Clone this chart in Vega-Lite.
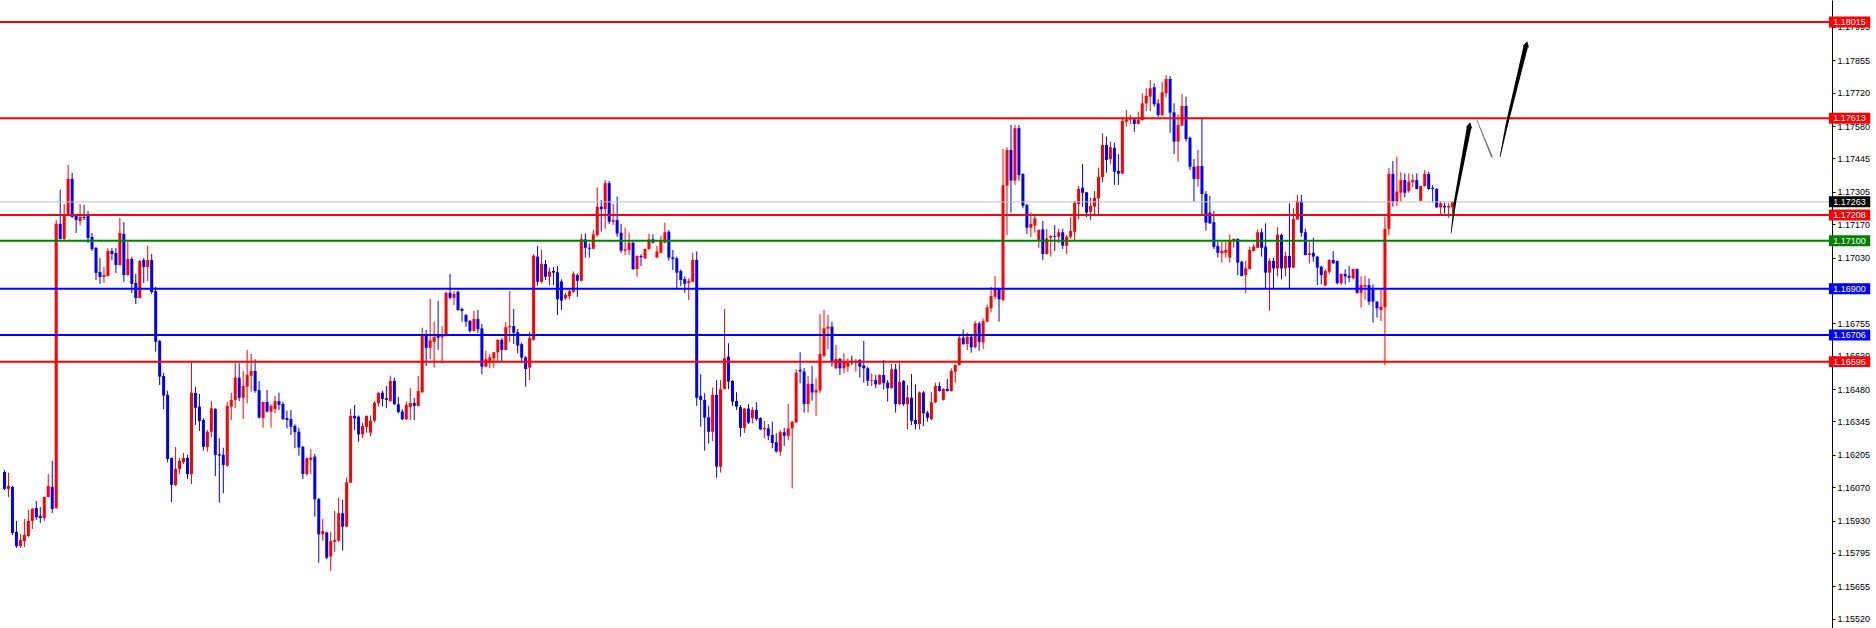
{
"$schema": "https://vega.github.io/schema/vega-lite/v6.json",
"width": 1832, "height": 628,
"autosize": {"type": "none"},
"padding": {"left": 0, "top": 0, "right": 44, "bottom": 0},
"background": "#ffffff",
"config": {"view": {"stroke": null}, "font": "Liberation Sans",
"axisY": {"orient": "right", "title": null, "grid": false, "format": ".5f", "domainColor": "#000000", "domainWidth": 1, "tickColor": "#000000", "tickSize": 3, "tickWidth": 1, "labelPadding": 2, "labelFont": "Liberation Sans", "labelFontSize": 9, "labelColor": "#000000", "labelOverlap": false, "labelFlush": false}},
"datasets": {
"candles": [
{"i":0,"o":1.16134,"h":1.16142,"l":1.16058,"c":1.16063},
{"i":1,"o":1.16063,"h":1.16130,"l":1.16029,"c":1.16075},
{"i":2,"o":1.16071,"h":1.16075,"l":1.15870,"c":1.15879},
{"i":3,"o":1.15883,"h":1.15929,"l":1.15816,"c":1.15824},
{"i":4,"o":1.15824,"h":1.15874,"l":1.15816,"c":1.15849},
{"i":5,"o":1.15845,"h":1.15937,"l":1.15820,"c":1.15870},
{"i":6,"o":1.15866,"h":1.15975,"l":1.15862,"c":1.15929},
{"i":7,"o":1.15929,"h":1.15983,"l":1.15895,"c":1.15979},
{"i":8,"o":1.15983,"h":1.16012,"l":1.15933,"c":1.15945},
{"i":9,"o":1.15950,"h":1.15987,"l":1.15920,"c":1.15941},
{"i":10,"o":1.15941,"h":1.16031,"l":1.15929,"c":1.16029},
{"i":11,"o":1.16029,"h":1.16125,"l":1.16027,"c":1.16075},
{"i":12,"o":1.16071,"h":1.16180,"l":1.15962,"c":1.15979},
{"i":13,"o":1.15983,"h":1.17187,"l":1.15979,"c":1.17171},
{"i":14,"o":1.17171,"h":1.17313,"l":1.17106,"c":1.17108},
{"i":15,"o":1.17108,"h":1.17254,"l":1.17104,"c":1.17208},
{"i":16,"o":1.17208,"h":1.17417,"l":1.17206,"c":1.17359},
{"i":17,"o":1.17359,"h":1.17384,"l":1.17196,"c":1.17200},
{"i":18,"o":1.17204,"h":1.17208,"l":1.17133,"c":1.17187},
{"i":19,"o":1.17183,"h":1.17254,"l":1.17166,"c":1.17200},
{"i":20,"o":1.17200,"h":1.17250,"l":1.17187,"c":1.17196},
{"i":21,"o":1.17204,"h":1.17225,"l":1.17091,"c":1.17112},
{"i":22,"o":1.17116,"h":1.17133,"l":1.17058,"c":1.17066},
{"i":23,"o":1.17070,"h":1.17075,"l":1.16936,"c":1.16966},
{"i":24,"o":1.16970,"h":1.17028,"l":1.16920,"c":1.16949},
{"i":25,"o":1.16949,"h":1.16991,"l":1.16924,"c":1.16957},
{"i":26,"o":1.16953,"h":1.17070,"l":1.16951,"c":1.17058},
{"i":27,"o":1.17058,"h":1.17070,"l":1.17020,"c":1.17045},
{"i":28,"o":1.17049,"h":1.17070,"l":1.16966,"c":1.16999},
{"i":29,"o":1.16999,"h":1.17196,"l":1.16997,"c":1.17133},
{"i":30,"o":1.17129,"h":1.17179,"l":1.16928,"c":1.16957},
{"i":31,"o":1.16957,"h":1.17095,"l":1.16955,"c":1.17024},
{"i":32,"o":1.17024,"h":1.17033,"l":1.16882,"c":1.16920},
{"i":33,"o":1.16924,"h":1.16962,"l":1.16836,"c":1.16861},
{"i":34,"o":1.16861,"h":1.17020,"l":1.16859,"c":1.17016},
{"i":35,"o":1.17020,"h":1.17028,"l":1.16924,"c":1.16991},
{"i":36,"o":1.16991,"h":1.17079,"l":1.16932,"c":1.17020},
{"i":37,"o":1.17020,"h":1.17045,"l":1.16878,"c":1.16886},
{"i":38,"o":1.16890,"h":1.16908,"l":1.16637,"c":1.16678},
{"i":39,"o":1.16681,"h":1.16686,"l":1.16497,"c":1.16532},
{"i":40,"o":1.16535,"h":1.16549,"l":1.16396,"c":1.16453},
{"i":41,"o":1.16456,"h":1.16473,"l":1.16174,"c":1.16188},
{"i":42,"o":1.16192,"h":1.16194,"l":1.16008,"c":1.16079},
{"i":43,"o":1.16079,"h":1.16238,"l":1.16075,"c":1.16146},
{"i":44,"o":1.16146,"h":1.16192,"l":1.16125,"c":1.16180},
{"i":45,"o":1.16175,"h":1.16213,"l":1.16167,"c":1.16192},
{"i":46,"o":1.16192,"h":1.16205,"l":1.16104,"c":1.16125},
{"i":47,"o":1.16125,"h":1.16591,"l":1.16083,"c":1.16465},
{"i":48,"o":1.16464,"h":1.16490,"l":1.16330,"c":1.16402},
{"i":49,"o":1.16407,"h":1.16460,"l":1.16305,"c":1.16347},
{"i":50,"o":1.16351,"h":1.16358,"l":1.16223,"c":1.16239},
{"i":51,"o":1.16238,"h":1.16309,"l":1.16219,"c":1.16302},
{"i":52,"o":1.16302,"h":1.16430,"l":1.16279,"c":1.16400},
{"i":53,"o":1.16397,"h":1.16400,"l":1.16117,"c":1.16205},
{"i":54,"o":1.16208,"h":1.16275,"l":1.16005,"c":1.16202},
{"i":55,"o":1.16205,"h":1.16235,"l":1.16045,"c":1.16163},
{"i":56,"o":1.16160,"h":1.16427,"l":1.16156,"c":1.16410},
{"i":57,"o":1.16407,"h":1.16465,"l":1.16351,"c":1.16435},
{"i":58,"o":1.16435,"h":1.16588,"l":1.16400,"c":1.16528},
{"i":59,"o":1.16528,"h":1.16588,"l":1.16430,"c":1.16444},
{"i":60,"o":1.16444,"h":1.16556,"l":1.16355,"c":1.16493},
{"i":61,"o":1.16490,"h":1.16644,"l":1.16421,"c":1.16539},
{"i":62,"o":1.16536,"h":1.16627,"l":1.16469,"c":1.16556},
{"i":63,"o":1.16556,"h":1.16605,"l":1.16465,"c":1.16472},
{"i":64,"o":1.16476,"h":1.16514,"l":1.16357,"c":1.16361},
{"i":65,"o":1.16359,"h":1.16428,"l":1.16319,"c":1.16426},
{"i":66,"o":1.16426,"h":1.16476,"l":1.16382,"c":1.16386},
{"i":67,"o":1.16386,"h":1.16417,"l":1.16319,"c":1.16410},
{"i":68,"o":1.16397,"h":1.16451,"l":1.16380,"c":1.16430},
{"i":69,"o":1.16430,"h":1.16465,"l":1.16393,"c":1.16414},
{"i":70,"o":1.16418,"h":1.16427,"l":1.16351,"c":1.16355},
{"i":71,"o":1.16359,"h":1.16390,"l":1.16316,"c":1.16351},
{"i":72,"o":1.16355,"h":1.16393,"l":1.16288,"c":1.16323},
{"i":73,"o":1.16326,"h":1.16333,"l":1.16233,"c":1.16300},
{"i":74,"o":1.16302,"h":1.16319,"l":1.16202,"c":1.16236},
{"i":75,"o":1.16239,"h":1.16242,"l":1.16104,"c":1.16125},
{"i":76,"o":1.16125,"h":1.16194,"l":1.16118,"c":1.16191},
{"i":77,"o":1.16184,"h":1.16229,"l":1.16125,"c":1.16194},
{"i":78,"o":1.16198,"h":1.16209,"l":1.15947,"c":1.16020},
{"i":79,"o":1.16021,"h":1.16024,"l":1.15754,"c":1.15873},
{"i":80,"o":1.15873,"h":1.15937,"l":1.15846,"c":1.15887},
{"i":81,"o":1.15881,"h":1.15884,"l":1.15769,"c":1.15775},
{"i":82,"o":1.15780,"h":1.15884,"l":1.15721,"c":1.15845},
{"i":83,"o":1.15842,"h":1.15971,"l":1.15800,"c":1.15849},
{"i":84,"o":1.15846,"h":1.16026,"l":1.15842,"c":1.15961},
{"i":85,"o":1.15961,"h":1.16017,"l":1.15805,"c":1.15905},
{"i":86,"o":1.15905,"h":1.16110,"l":1.15903,"c":1.16091},
{"i":87,"o":1.16089,"h":1.16397,"l":1.16087,"c":1.16368},
{"i":88,"o":1.16368,"h":1.16414,"l":1.16309,"c":1.16358},
{"i":89,"o":1.16365,"h":1.16370,"l":1.16260,"c":1.16291},
{"i":90,"o":1.16291,"h":1.16340,"l":1.16275,"c":1.16326},
{"i":91,"o":1.16322,"h":1.16370,"l":1.16298,"c":1.16368},
{"i":92,"o":1.16298,"h":1.16370,"l":1.16284,"c":1.16348},
{"i":93,"o":1.16348,"h":1.16430,"l":1.16340,"c":1.16423},
{"i":94,"o":1.16421,"h":1.16466,"l":1.16407,"c":1.16465},
{"i":95,"o":1.16465,"h":1.16473,"l":1.16407,"c":1.16439},
{"i":96,"o":1.16442,"h":1.16493,"l":1.16400,"c":1.16435},
{"i":97,"o":1.16430,"h":1.16536,"l":1.16428,"c":1.16514},
{"i":98,"o":1.16514,"h":1.16528,"l":1.16414,"c":1.16417},
{"i":99,"o":1.16417,"h":1.16448,"l":1.16379,"c":1.16384},
{"i":100,"o":1.16386,"h":1.16396,"l":1.16351,"c":1.16354},
{"i":101,"o":1.16354,"h":1.16428,"l":1.16351,"c":1.16414},
{"i":102,"o":1.16405,"h":1.16484,"l":1.16351,"c":1.16422},
{"i":103,"o":1.16422,"h":1.16443,"l":1.16351,"c":1.16410},
{"i":104,"o":1.16410,"h":1.16535,"l":1.16408,"c":1.16472},
{"i":105,"o":1.16467,"h":1.16737,"l":1.16463,"c":1.16702},
{"i":106,"o":1.16702,"h":1.16727,"l":1.16577,"c":1.16653},
{"i":107,"o":1.16653,"h":1.16857,"l":1.16606,"c":1.16683},
{"i":108,"o":1.16678,"h":1.16762,"l":1.16570,"c":1.16699},
{"i":109,"o":1.16709,"h":1.16849,"l":1.16644,"c":1.16695},
{"i":110,"o":1.16697,"h":1.16744,"l":1.16591,"c":1.16702},
{"i":111,"o":1.16702,"h":1.16887,"l":1.16700,"c":1.16883},
{"i":112,"o":1.16883,"h":1.16962,"l":1.16855,"c":1.16862},
{"i":113,"o":1.16862,"h":1.16890,"l":1.16832,"c":1.16878},
{"i":114,"o":1.16887,"h":1.16892,"l":1.16808,"c":1.16811},
{"i":115,"o":1.16815,"h":1.16821,"l":1.16762,"c":1.16807},
{"i":116,"o":1.16790,"h":1.16794,"l":1.16741,"c":1.16762},
{"i":117,"o":1.16765,"h":1.16769,"l":1.16716,"c":1.16723},
{"i":118,"o":1.16724,"h":1.16808,"l":1.16721,"c":1.16773},
{"i":119,"o":1.16773,"h":1.16811,"l":1.16714,"c":1.16730},
{"i":120,"o":1.16734,"h":1.16752,"l":1.16543,"c":1.16574},
{"i":121,"o":1.16574,"h":1.16641,"l":1.16572,"c":1.16605},
{"i":122,"o":1.16591,"h":1.16627,"l":1.16567,"c":1.16613},
{"i":123,"o":1.16609,"h":1.16636,"l":1.16570,"c":1.16634},
{"i":124,"o":1.16634,"h":1.16688,"l":1.16591,"c":1.16686},
{"i":125,"o":1.16686,"h":1.16693,"l":1.16595,"c":1.16644},
{"i":126,"o":1.16644,"h":1.16760,"l":1.16642,"c":1.16739},
{"i":127,"o":1.16739,"h":1.16890,"l":1.16678,"c":1.16744},
{"i":128,"o":1.16744,"h":1.16815,"l":1.16669,"c":1.16716},
{"i":129,"o":1.16718,"h":1.16731,"l":1.16630,"c":1.16662},
{"i":130,"o":1.16668,"h":1.16674,"l":1.16591,"c":1.16612},
{"i":131,"o":1.16613,"h":1.16619,"l":1.16490,"c":1.16564},
{"i":132,"o":1.16570,"h":1.16720,"l":1.16518,"c":1.16693},
{"i":133,"o":1.16686,"h":1.17044,"l":1.16684,"c":1.17038},
{"i":134,"o":1.17034,"h":1.17079,"l":1.16913,"c":1.16929},
{"i":135,"o":1.16929,"h":1.17062,"l":1.16923,"c":1.17003},
{"i":136,"o":1.17003,"h":1.17020,"l":1.16936,"c":1.16950},
{"i":137,"o":1.16950,"h":1.16988,"l":1.16915,"c":1.16971},
{"i":138,"o":1.16974,"h":1.16990,"l":1.16915,"c":1.16967},
{"i":139,"o":1.16969,"h":1.16995,"l":1.16790,"c":1.16856},
{"i":140,"o":1.16930,"h":1.16939,"l":1.16811,"c":1.16850},
{"i":141,"o":1.16860,"h":1.16883,"l":1.16853,"c":1.16874},
{"i":142,"o":1.16869,"h":1.16898,"l":1.16855,"c":1.16890},
{"i":143,"o":1.16887,"h":1.16972,"l":1.16883,"c":1.16962},
{"i":144,"o":1.16957,"h":1.16964,"l":1.16866,"c":1.16933},
{"i":145,"o":1.16933,"h":1.17129,"l":1.16931,"c":1.17107},
{"i":146,"o":1.17106,"h":1.17131,"l":1.17030,"c":1.17071},
{"i":147,"o":1.17071,"h":1.17089,"l":1.17030,"c":1.17067},
{"i":148,"o":1.17067,"h":1.17145,"l":1.17065,"c":1.17127},
{"i":149,"o":1.17124,"h":1.17324,"l":1.17117,"c":1.17243},
{"i":150,"o":1.17243,"h":1.17271,"l":1.17138,"c":1.17232},
{"i":151,"o":1.17233,"h":1.17354,"l":1.17148,"c":1.17341},
{"i":152,"o":1.17341,"h":1.17350,"l":1.17171,"c":1.17180},
{"i":153,"o":1.17180,"h":1.17254,"l":1.17166,"c":1.17187},
{"i":154,"o":1.17187,"h":1.17285,"l":1.17117,"c":1.17131},
{"i":155,"o":1.17134,"h":1.17171,"l":1.17050,"c":1.17059},
{"i":156,"o":1.17059,"h":1.17155,"l":1.17041,"c":1.17065},
{"i":157,"o":1.17062,"h":1.17134,"l":1.17041,"c":1.17092},
{"i":158,"o":1.17092,"h":1.17097,"l":1.16978,"c":1.16982},
{"i":159,"o":1.16982,"h":1.17039,"l":1.16951,"c":1.17037},
{"i":160,"o":1.17037,"h":1.17044,"l":1.16995,"c":1.17031},
{"i":161,"o":1.17027,"h":1.17068,"l":1.17024,"c":1.17066},
{"i":162,"o":1.17066,"h":1.17129,"l":1.17062,"c":1.17106},
{"i":163,"o":1.17106,"h":1.17127,"l":1.17090,"c":1.17092},
{"i":164,"o":1.17031,"h":1.17079,"l":1.17029,"c":1.17055},
{"i":165,"o":1.17050,"h":1.17120,"l":1.17048,"c":1.17101},
{"i":166,"o":1.17092,"h":1.17176,"l":1.17090,"c":1.17136},
{"i":167,"o":1.17138,"h":1.17145,"l":1.17017,"c":1.17030},
{"i":168,"o":1.17031,"h":1.17062,"l":1.16978,"c":1.17024},
{"i":169,"o":1.17027,"h":1.17034,"l":1.16901,"c":1.16967},
{"i":170,"o":1.16974,"h":1.16981,"l":1.16911,"c":1.16936},
{"i":171,"o":1.16940,"h":1.16951,"l":1.16883,"c":1.16920},
{"i":172,"o":1.16924,"h":1.16943,"l":1.16853,"c":1.16932},
{"i":173,"o":1.16929,"h":1.17050,"l":1.16927,"c":1.17020},
{"i":174,"o":1.17020,"h":1.17055,"l":1.16410,"c":1.16444},
{"i":175,"o":1.16451,"h":1.16543,"l":1.16323,"c":1.16435},
{"i":176,"o":1.16435,"h":1.16463,"l":1.16223,"c":1.16361},
{"i":177,"o":1.16362,"h":1.16410,"l":1.16253,"c":1.16302},
{"i":178,"o":1.16302,"h":1.16486,"l":1.16263,"c":1.16456},
{"i":179,"o":1.16456,"h":1.16518,"l":1.16110,"c":1.16156},
{"i":180,"o":1.16156,"h":1.16518,"l":1.16131,"c":1.16480},
{"i":181,"o":1.16481,"h":1.16815,"l":1.16479,"c":1.16609},
{"i":182,"o":1.16616,"h":1.16672,"l":1.16480,"c":1.16512},
{"i":183,"o":1.16514,"h":1.16518,"l":1.16410,"c":1.16428},
{"i":184,"o":1.16430,"h":1.16467,"l":1.16393,"c":1.16407},
{"i":185,"o":1.16405,"h":1.16414,"l":1.16281,"c":1.16318},
{"i":186,"o":1.16318,"h":1.16401,"l":1.16297,"c":1.16399},
{"i":187,"o":1.16399,"h":1.16418,"l":1.16334,"c":1.16340},
{"i":188,"o":1.16359,"h":1.16405,"l":1.16337,"c":1.16393},
{"i":189,"o":1.16393,"h":1.16425,"l":1.16348,"c":1.16355},
{"i":190,"o":1.16359,"h":1.16362,"l":1.16309,"c":1.16312},
{"i":191,"o":1.16312,"h":1.16347,"l":1.16274,"c":1.16318},
{"i":192,"o":1.16316,"h":1.16334,"l":1.16267,"c":1.16285},
{"i":193,"o":1.16288,"h":1.16344,"l":1.16233,"c":1.16255},
{"i":194,"o":1.16258,"h":1.16295,"l":1.16215,"c":1.16219},
{"i":195,"o":1.16219,"h":1.16309,"l":1.16201,"c":1.16300},
{"i":196,"o":1.16300,"h":1.16318,"l":1.16243,"c":1.16285},
{"i":197,"o":1.16285,"h":1.16418,"l":1.16267,"c":1.16316},
{"i":198,"o":1.16316,"h":1.16347,"l":1.16065,"c":1.16344},
{"i":199,"o":1.16341,"h":1.16563,"l":1.16339,"c":1.16549},
{"i":200,"o":1.16561,"h":1.16634,"l":1.16505,"c":1.16554},
{"i":201,"o":1.16554,"h":1.16568,"l":1.16382,"c":1.16418},
{"i":202,"o":1.16418,"h":1.16535,"l":1.16382,"c":1.16502},
{"i":203,"o":1.16502,"h":1.16577,"l":1.16432,"c":1.16466},
{"i":204,"o":1.16466,"h":1.16525,"l":1.16368,"c":1.16476},
{"i":205,"o":1.16474,"h":1.16794,"l":1.16464,"c":1.16627},
{"i":206,"o":1.16619,"h":1.16811,"l":1.16613,"c":1.16734},
{"i":207,"o":1.16733,"h":1.16790,"l":1.16647,"c":1.16741},
{"i":208,"o":1.16741,"h":1.16762,"l":1.16574,"c":1.16595},
{"i":209,"o":1.16567,"h":1.16665,"l":1.16565,"c":1.16606},
{"i":210,"o":1.16606,"h":1.16611,"l":1.16539,"c":1.16567},
{"i":211,"o":1.16567,"h":1.16630,"l":1.16546,"c":1.16598},
{"i":212,"o":1.16574,"h":1.16609,"l":1.16553,"c":1.16591},
{"i":213,"o":1.16588,"h":1.16619,"l":1.16581,"c":1.16588},
{"i":214,"o":1.16591,"h":1.16606,"l":1.16553,"c":1.16595},
{"i":215,"o":1.16602,"h":1.16606,"l":1.16528,"c":1.16574},
{"i":216,"o":1.16579,"h":1.16681,"l":1.16507,"c":1.16567},
{"i":217,"o":1.16567,"h":1.16574,"l":1.16493,"c":1.16515},
{"i":218,"o":1.16515,"h":1.16546,"l":1.16493,"c":1.16518},
{"i":219,"o":1.16518,"h":1.16539,"l":1.16484,"c":1.16500},
{"i":220,"o":1.16500,"h":1.16542,"l":1.16497,"c":1.16539},
{"i":221,"o":1.16539,"h":1.16602,"l":1.16479,"c":1.16505},
{"i":222,"o":1.16507,"h":1.16518,"l":1.16428,"c":1.16484},
{"i":223,"o":1.16484,"h":1.16585,"l":1.16482,"c":1.16563},
{"i":224,"o":1.16563,"h":1.16585,"l":1.16382,"c":1.16417},
{"i":225,"o":1.16417,"h":1.16588,"l":1.16414,"c":1.16509},
{"i":226,"o":1.16514,"h":1.16518,"l":1.16410,"c":1.16417},
{"i":227,"o":1.16417,"h":1.16497,"l":1.16312,"c":1.16446},
{"i":228,"o":1.16444,"h":1.16543,"l":1.16330,"c":1.16347},
{"i":229,"o":1.16351,"h":1.16500,"l":1.16312,"c":1.16334},
{"i":230,"o":1.16334,"h":1.16470,"l":1.16312,"c":1.16466},
{"i":231,"o":1.16466,"h":1.16472,"l":1.16326,"c":1.16379},
{"i":232,"o":1.16382,"h":1.16389,"l":1.16344,"c":1.16361},
{"i":233,"o":1.16355,"h":1.16467,"l":1.16351,"c":1.16425},
{"i":234,"o":1.16425,"h":1.16507,"l":1.16421,"c":1.16493},
{"i":235,"o":1.16493,"h":1.16509,"l":1.16470,"c":1.16472},
{"i":236,"o":1.16435,"h":1.16484,"l":1.16432,"c":1.16481},
{"i":237,"o":1.16481,"h":1.16523,"l":1.16470,"c":1.16472},
{"i":238,"o":1.16472,"h":1.16567,"l":1.16470,"c":1.16556},
{"i":239,"o":1.16553,"h":1.16584,"l":1.16507,"c":1.16581},
{"i":240,"o":1.16581,"h":1.16702,"l":1.16578,"c":1.16695},
{"i":241,"o":1.16695,"h":1.16730,"l":1.16665,"c":1.16669},
{"i":242,"o":1.16669,"h":1.16716,"l":1.16644,"c":1.16699},
{"i":243,"o":1.16699,"h":1.16706,"l":1.16632,"c":1.16655},
{"i":244,"o":1.16655,"h":1.16765,"l":1.16651,"c":1.16755},
{"i":245,"o":1.16755,"h":1.16762,"l":1.16640,"c":1.16678},
{"i":246,"o":1.16676,"h":1.16776,"l":1.16648,"c":1.16765},
{"i":247,"o":1.16762,"h":1.16832,"l":1.16760,"c":1.16822},
{"i":248,"o":1.16818,"h":1.16908,"l":1.16801,"c":1.16869},
{"i":249,"o":1.16866,"h":1.16953,"l":1.16856,"c":1.16902},
{"i":250,"o":1.16902,"h":1.16904,"l":1.16762,"c":1.16856},
{"i":251,"o":1.16853,"h":1.17484,"l":1.16846,"c":1.17333},
{"i":252,"o":1.17331,"h":1.17491,"l":1.17124,"c":1.17480},
{"i":253,"o":1.17480,"h":1.17584,"l":1.17218,"c":1.17352},
{"i":254,"o":1.17352,"h":1.17584,"l":1.17334,"c":1.17571},
{"i":255,"o":1.17571,"h":1.17584,"l":1.17352,"c":1.17375},
{"i":256,"o":1.17380,"h":1.17382,"l":1.17236,"c":1.17247},
{"i":257,"o":1.17250,"h":1.17254,"l":1.17129,"c":1.17155},
{"i":258,"o":1.17155,"h":1.17219,"l":1.17117,"c":1.17171},
{"i":259,"o":1.17164,"h":1.17204,"l":1.17134,"c":1.17194},
{"i":260,"o":1.17104,"h":1.17148,"l":1.17071,"c":1.17145},
{"i":261,"o":1.17148,"h":1.17183,"l":1.17020,"c":1.17045},
{"i":262,"o":1.17045,"h":1.17150,"l":1.17043,"c":1.17110},
{"i":263,"o":1.17113,"h":1.17124,"l":1.17034,"c":1.17120},
{"i":264,"o":1.17120,"h":1.17166,"l":1.17058,"c":1.17117},
{"i":265,"o":1.17117,"h":1.17152,"l":1.17090,"c":1.17136},
{"i":266,"o":1.17136,"h":1.17150,"l":1.17066,"c":1.17080},
{"i":267,"o":1.17080,"h":1.17124,"l":1.17045,"c":1.17117},
{"i":268,"o":1.17117,"h":1.17199,"l":1.17108,"c":1.17141},
{"i":269,"o":1.17138,"h":1.17267,"l":1.17099,"c":1.17260},
{"i":270,"o":1.17254,"h":1.17329,"l":1.17190,"c":1.17317},
{"i":271,"o":1.17322,"h":1.17421,"l":1.17243,"c":1.17301},
{"i":272,"o":1.17303,"h":1.17305,"l":1.17199,"c":1.17218},
{"i":273,"o":1.17222,"h":1.17280,"l":1.17187,"c":1.17246},
{"i":274,"o":1.17243,"h":1.17308,"l":1.17212,"c":1.17280},
{"i":275,"o":1.17278,"h":1.17406,"l":1.17212,"c":1.17368},
{"i":276,"o":1.17366,"h":1.17550,"l":1.17345,"c":1.17501},
{"i":277,"o":1.17501,"h":1.17536,"l":1.17385,"c":1.17438},
{"i":278,"o":1.17442,"h":1.17515,"l":1.17420,"c":1.17491},
{"i":279,"o":1.17489,"h":1.17510,"l":1.17334,"c":1.17389},
{"i":280,"o":1.17392,"h":1.17463,"l":1.17334,"c":1.17381},
{"i":281,"o":1.17381,"h":1.17615,"l":1.17379,"c":1.17601},
{"i":282,"o":1.17598,"h":1.17647,"l":1.17578,"c":1.17608},
{"i":283,"o":1.17605,"h":1.17626,"l":1.17587,"c":1.17608},
{"i":284,"o":1.17608,"h":1.17612,"l":1.17556,"c":1.17589},
{"i":285,"o":1.17589,"h":1.17640,"l":1.17587,"c":1.17605},
{"i":286,"o":1.17605,"h":1.17717,"l":1.17603,"c":1.17675},
{"i":287,"o":1.17675,"h":1.17738,"l":1.17643,"c":1.17706},
{"i":288,"o":1.17703,"h":1.17772,"l":1.17643,"c":1.17738},
{"i":289,"o":1.17742,"h":1.17759,"l":1.17661,"c":1.17671},
{"i":290,"o":1.17675,"h":1.17692,"l":1.17617,"c":1.17626},
{"i":291,"o":1.17626,"h":1.17763,"l":1.17622,"c":1.17721},
{"i":292,"o":1.17717,"h":1.17793,"l":1.17699,"c":1.17777},
{"i":293,"o":1.17777,"h":1.17789,"l":1.17552,"c":1.17636},
{"i":294,"o":1.17637,"h":1.17675,"l":1.17463,"c":1.17515},
{"i":295,"o":1.17515,"h":1.17629,"l":1.17431,"c":1.17584},
{"i":296,"o":1.17582,"h":1.17713,"l":1.17580,"c":1.17664},
{"i":297,"o":1.17664,"h":1.17703,"l":1.17515,"c":1.17526},
{"i":298,"o":1.17531,"h":1.17536,"l":1.17396,"c":1.17410},
{"i":299,"o":1.17410,"h":1.17442,"l":1.17264,"c":1.17359},
{"i":300,"o":1.17359,"h":1.17480,"l":1.17326,"c":1.17413},
{"i":301,"o":1.17413,"h":1.17615,"l":1.17212,"c":1.17296},
{"i":302,"o":1.17296,"h":1.17308,"l":1.17142,"c":1.17176},
{"i":303,"o":1.17218,"h":1.17288,"l":1.17171,"c":1.17173},
{"i":304,"o":1.17178,"h":1.17225,"l":1.17066,"c":1.17075},
{"i":305,"o":1.17079,"h":1.17101,"l":1.17030,"c":1.17050},
{"i":306,"o":1.17048,"h":1.17097,"l":1.17009,"c":1.17058},
{"i":307,"o":1.17050,"h":1.17097,"l":1.17030,"c":1.17062},
{"i":308,"o":1.17030,"h":1.17127,"l":1.17009,"c":1.17104},
{"i":309,"o":1.17101,"h":1.17111,"l":1.17071,"c":1.17108},
{"i":310,"o":1.17108,"h":1.17111,"l":1.16957,"c":1.17009},
{"i":311,"o":1.17013,"h":1.17016,"l":1.16951,"c":1.16953},
{"i":312,"o":1.16957,"h":1.17016,"l":1.16881,"c":1.16985},
{"i":313,"o":1.16982,"h":1.17076,"l":1.16981,"c":1.17062},
{"i":314,"o":1.17058,"h":1.17086,"l":1.17055,"c":1.17076},
{"i":315,"o":1.17071,"h":1.17148,"l":1.17069,"c":1.17136},
{"i":316,"o":1.17136,"h":1.17152,"l":1.17034,"c":1.17071},
{"i":317,"o":1.17076,"h":1.17173,"l":1.16901,"c":1.16967},
{"i":318,"o":1.16967,"h":1.17027,"l":1.16808,"c":1.17016},
{"i":319,"o":1.17016,"h":1.17030,"l":1.16901,"c":1.16985},
{"i":320,"o":1.16985,"h":1.17157,"l":1.16951,"c":1.17125},
{"i":321,"o":1.17125,"h":1.17131,"l":1.16939,"c":1.16985},
{"i":322,"o":1.16985,"h":1.17055,"l":1.16951,"c":1.17037},
{"i":323,"o":1.17037,"h":1.17257,"l":1.16901,"c":1.16988},
{"i":324,"o":1.16988,"h":1.17236,"l":1.16986,"c":1.17191},
{"i":325,"o":1.17190,"h":1.17292,"l":1.17188,"c":1.17267},
{"i":326,"o":1.17267,"h":1.17292,"l":1.17117,"c":1.17134},
{"i":327,"o":1.17136,"h":1.17152,"l":1.17039,"c":1.17041},
{"i":328,"o":1.17041,"h":1.17094,"l":1.17006,"c":1.17048},
{"i":329,"o":1.17050,"h":1.17113,"l":1.17013,"c":1.17034},
{"i":330,"o":1.17034,"h":1.17037,"l":1.16915,"c":1.16988},
{"i":331,"o":1.16992,"h":1.16996,"l":1.16918,"c":1.16957},
{"i":332,"o":1.16913,"h":1.16981,"l":1.16911,"c":1.16974},
{"i":333,"o":1.16971,"h":1.17023,"l":1.16962,"c":1.17020},
{"i":334,"o":1.17020,"h":1.17058,"l":1.17004,"c":1.17006},
{"i":335,"o":1.17016,"h":1.17018,"l":1.16918,"c":1.16923},
{"i":336,"o":1.16923,"h":1.16964,"l":1.16915,"c":1.16962},
{"i":337,"o":1.16962,"h":1.16981,"l":1.16918,"c":1.16951},
{"i":338,"o":1.16954,"h":1.16995,"l":1.16927,"c":1.16946},
{"i":339,"o":1.16943,"h":1.16984,"l":1.16939,"c":1.16982},
{"i":340,"o":1.16982,"h":1.16985,"l":1.16878,"c":1.16883},
{"i":341,"o":1.16883,"h":1.16951,"l":1.16821,"c":1.16915},
{"i":342,"o":1.16908,"h":1.16953,"l":1.16853,"c":1.16915},
{"i":343,"o":1.16915,"h":1.16943,"l":1.16832,"c":1.16846},
{"i":344,"o":1.16897,"h":1.16918,"l":1.16758,"c":1.16846},
{"i":345,"o":1.16846,"h":1.16848,"l":1.16779,"c":1.16818},
{"i":346,"o":1.16811,"h":1.16895,"l":1.16765,"c":1.16825},
{"i":347,"o":1.16822,"h":1.17201,"l":1.16581,"c":1.17150},
{"i":348,"o":1.17150,"h":1.17404,"l":1.17124,"c":1.17380},
{"i":349,"o":1.17380,"h":1.17434,"l":1.17243,"c":1.17264},
{"i":350,"o":1.17264,"h":1.17452,"l":1.17246,"c":1.17306},
{"i":351,"o":1.17301,"h":1.17387,"l":1.17264,"c":1.17354},
{"i":352,"o":1.17354,"h":1.17382,"l":1.17282,"c":1.17301},
{"i":353,"o":1.17308,"h":1.17382,"l":1.17301,"c":1.17347},
{"i":354,"o":1.17345,"h":1.17378,"l":1.17326,"c":1.17354},
{"i":355,"o":1.17354,"h":1.17382,"l":1.17315,"c":1.17317},
{"i":356,"o":1.17268,"h":1.17331,"l":1.17266,"c":1.17329},
{"i":357,"o":1.17329,"h":1.17396,"l":1.17327,"c":1.17380},
{"i":358,"o":1.17380,"h":1.17389,"l":1.17313,"c":1.17317},
{"i":359,"o":1.17322,"h":1.17333,"l":1.17260,"c":1.17317},
{"i":360,"o":1.17317,"h":1.17320,"l":1.17238,"c":1.17240},
{"i":361,"o":1.17240,"h":1.17264,"l":1.17211,"c":1.17257},
{"i":362,"o":1.17246,"h":1.17260,"l":1.17215,"c":1.17240},
{"i":363,"o":1.17240,"h":1.17257,"l":1.17197,"c":1.17246},
{"i":364,"o":1.17240,"h":1.17266,"l":1.17215,"c":1.17263}
],
"levels": [
{"p":1.18015,"kind":"R"},
{"p":1.17613,"kind":"R"},
{"p":1.17263,"kind":"last"},
{"p":1.17208,"kind":"R"},
{"p":1.17100,"kind":"P"},
{"p":1.16900,"kind":"S"},
{"p":1.16706,"kind":"S"},
{"p":1.16595,"kind":"R"}
],
"arrows": [
{"arrow":"a","i":363.625,"p":1.17132,"t":0},
{"arrow":"a","i":364.7,"p":1.17271,"t":0.45},
{"arrow":"a","i":368.125,"p":1.17572,"t":1},
{"arrow":"b","i":370.125,"p":1.17605,"t":0},
{"arrow":"b","i":373.875,"p":1.17452,"t":0.25},
{"arrow":"c","i":375.95,"p":1.17452,"t":0},
{"arrow":"c","i":377.625,"p":1.17585,"t":0.45},
{"arrow":"c","i":382.375,"p":1.17911,"t":1}
],
"heads": [
{"arrow":"a","i":368.275,"p":1.17584},
{"arrow":"c","i":382.6,"p":1.17923}
]
},
"layer": [
{
"data": {"name": "candles"},
"mark": {"type": "rule", "strokeWidth": 1, "clip": true},
"encoding": {
"x": {"field": "i", "type": "quantitative", "scale": {"domain": [0.125, 458.125], "nice": false, "zero": false}, "axis": null},
"y": {"field": "l", "type": "quantitative", "scale": {"domain": [1.154813, 1.18107], "nice": false, "zero": false}, "axis": {"title": null, "values": [1.17995, 1.17855, 1.1772, 1.1758, 1.17445, 1.17305, 1.1717, 1.1703, 1.16895, 1.16755, 1.1662, 1.1648, 1.16345, 1.16205, 1.1607, 1.1593, 1.15795, 1.15655, 1.1552]}},
"y2": {"field": "h"},
"color": {"condition": [{"test": "datum.c > datum.o", "value": "#FF0000"}, {"test": "datum.c < datum.o", "value": "#0000FF"}], "value": "#000000"}
}
},
{
"data": {"name": "candles"},
"mark": {"type": "bar", "width": 3, "orient": "vertical", "clip": true},
"encoding": {
"x": {"field": "i", "type": "quantitative", "scale": {"domain": [0.125, 458.125], "nice": false, "zero": false}, "axis": null},
"y": {"field": "o", "type": "quantitative", "scale": {"domain": [1.154813, 1.18107], "nice": false, "zero": false}, "axis": {"title": null, "values": [1.17995, 1.17855, 1.1772, 1.1758, 1.17445, 1.17305, 1.1717, 1.1703, 1.16895, 1.16755, 1.1662, 1.1648, 1.16345, 1.16205, 1.1607, 1.1593, 1.15795, 1.15655, 1.1552]}},
"y2": {"field": "c"},
"color": {"condition": [{"test": "datum.c > datum.o", "value": "#FF0000"}, {"test": "datum.c < datum.o", "value": "#0000FF"}], "value": "#000000"}
}
},
{
"data": {"name": "levels"},
"mark": {"type": "rule", "clip": true},
"encoding": {
"y": {"field": "p", "type": "quantitative", "scale": {"domain": [1.154813, 1.18107], "nice": false, "zero": false}, "axis": {"title": null, "values": [1.17995, 1.17855, 1.1772, 1.1758, 1.17445, 1.17305, 1.1717, 1.1703, 1.16895, 1.16755, 1.1662, 1.1648, 1.16345, 1.16205, 1.1607, 1.1593, 1.15795, 1.15655, 1.1552]}},
"color": {"field": "kind", "type": "nominal", "scale": {"domain": ["R", "P", "S", "last"], "range": ["#FF0000", "#008000", "#0000FF", "#C0C0C0"]}, "legend": null},
"strokeWidth": {"condition": {"test": "datum.kind === 'last'", "value": 1}, "value": 2}
}
},
{
"data": {"name": "arrows"},
"mark": {"type": "trail", "clip": true},
"encoding": {
"x": {"field": "i", "type": "quantitative", "scale": {"domain": [0.125, 458.125], "nice": false, "zero": false}, "axis": null},
"y": {"field": "p", "type": "quantitative", "scale": {"domain": [1.154813, 1.18107], "nice": false, "zero": false}, "axis": {"title": null, "values": [1.17995, 1.17855, 1.1772, 1.1758, 1.17445, 1.17305, 1.1717, 1.1703, 1.16895, 1.16755, 1.1662, 1.1648, 1.16345, 1.16205, 1.1607, 1.1593, 1.15795, 1.15655, 1.1552]}},
"detail": {"field": "arrow", "type": "nominal"},
"size": {"field": "t", "type": "quantitative", "scale": {"domain": [0, 1], "range": [0.7, 4.5]}, "legend": null},
"color": {"condition": {"test": "datum.arrow === 'b'", "value": "#707070"}, "value": "#000000"}
}
},
{
"data": {"name": "heads"},
"transform": [{"filter": "datum.arrow === 'a'"}],
"mark": {"type": "point", "shape": "triangle-up", "filled": true, "size": 42, "angle": 11, "color": "#000000", "opacity": 1},
"encoding": {
"x": {"field": "i", "type": "quantitative", "scale": {"domain": [0.125, 458.125], "nice": false, "zero": false}, "axis": null},
"y": {"field": "p", "type": "quantitative", "scale": {"domain": [1.154813, 1.18107], "nice": false, "zero": false}, "axis": {"title": null, "values": [1.17995, 1.17855, 1.1772, 1.1758, 1.17445, 1.17305, 1.1717, 1.1703, 1.16895, 1.16755, 1.1662, 1.1648, 1.16345, 1.16205, 1.1607, 1.1593, 1.15795, 1.15655, 1.1552]}}
}
},
{
"data": {"name": "heads"},
"transform": [{"filter": "datum.arrow === 'c'"}],
"mark": {"type": "point", "shape": "triangle-up", "filled": true, "size": 42, "angle": 14, "color": "#000000", "opacity": 1},
"encoding": {
"x": {"field": "i", "type": "quantitative", "scale": {"domain": [0.125, 458.125], "nice": false, "zero": false}, "axis": null},
"y": {"field": "p", "type": "quantitative", "scale": {"domain": [1.154813, 1.18107], "nice": false, "zero": false}, "axis": {"title": null, "values": [1.17995, 1.17855, 1.1772, 1.1758, 1.17445, 1.17305, 1.1717, 1.1703, 1.16895, 1.16755, 1.1662, 1.1648, 1.16345, 1.16205, 1.1607, 1.1593, 1.15795, 1.15655, 1.1552]}}
}
},
{
"data": {"name": "levels"},
"mark": {"type": "point", "shape": "M-1,-0.266L1,-0.266L1,0.266L-1,0.266Z", "filled": true, "size": 1706, "opacity": 1, "strokeWidth": 0, "clip": false},
"encoding": {
"x": {"datum": 463.8, "type": "quantitative", "scale": {"domain": [0.125, 458.125], "nice": false, "zero": false}, "axis": null},
"y": {"field": "p", "type": "quantitative", "scale": {"domain": [1.154813, 1.18107], "nice": false, "zero": false}, "axis": {"title": null, "values": [1.17995, 1.17855, 1.1772, 1.1758, 1.17445, 1.17305, 1.1717, 1.1703, 1.16895, 1.16755, 1.1662, 1.1648, 1.16345, 1.16205, 1.1607, 1.1593, 1.15795, 1.15655, 1.1552]}},
"fill": {"field": "kind", "type": "nominal", "scale": {"domain": ["R", "P", "S", "last"], "range": ["#FF0000", "#008000", "#0000FF", "#000000"]}, "legend": null}
}
},
{
"data": {"name": "levels"},
"mark": {"type": "text", "font": "Liberation Sans", "fontSize": 9, "color": "#FFFFFF", "align": "center", "baseline": "middle", "clip": false},
"encoding": {
"x": {"datum": 463.8, "type": "quantitative", "scale": {"domain": [0.125, 458.125], "nice": false, "zero": false}, "axis": null},
"y": {"field": "p", "type": "quantitative", "scale": {"domain": [1.154813, 1.18107], "nice": false, "zero": false}, "axis": {"title": null, "values": [1.17995, 1.17855, 1.1772, 1.1758, 1.17445, 1.17305, 1.1717, 1.1703, 1.16895, 1.16755, 1.1662, 1.1648, 1.16345, 1.16205, 1.1607, 1.1593, 1.15795, 1.15655, 1.1552]}},
"text": {"field": "p", "type": "quantitative", "format": ".5f"}
}
}
]
}
